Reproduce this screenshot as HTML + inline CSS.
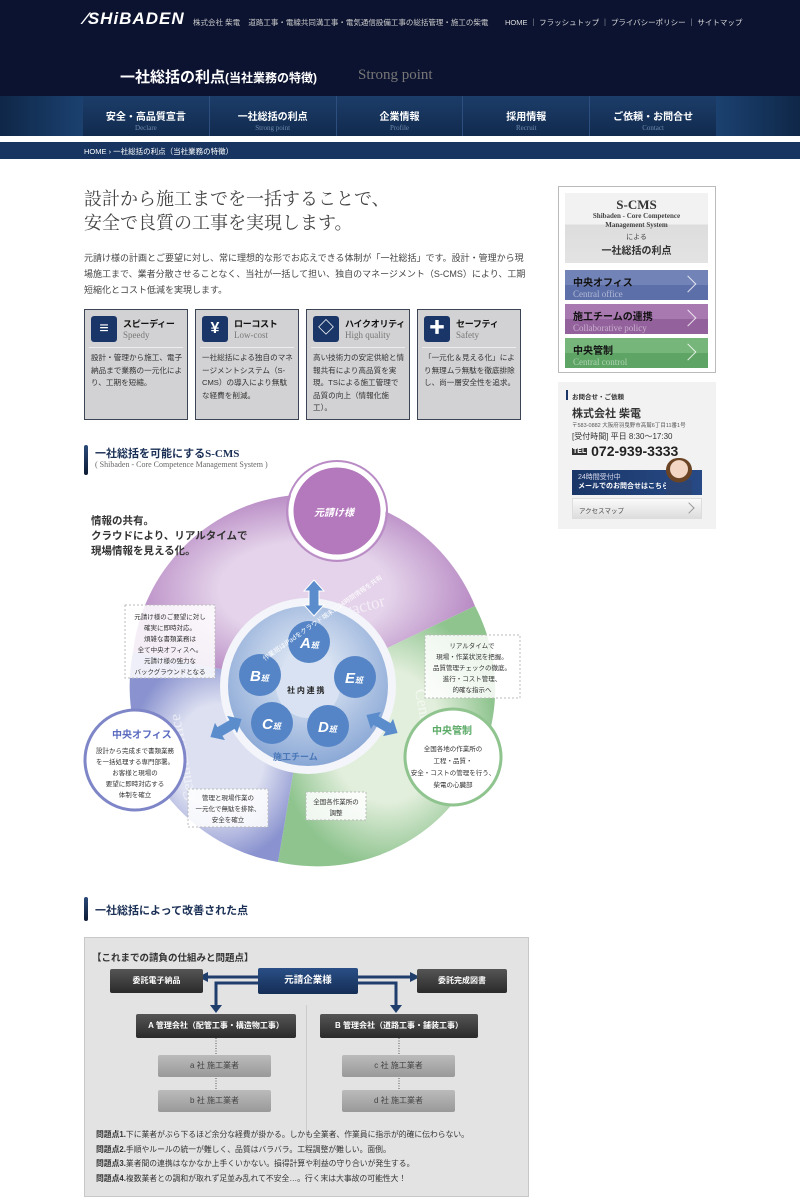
<!DOCTYPE html>
<html><head><meta charset="utf-8">
<style>
*{margin:0;padding:0;box-sizing:border-box}
body{width:800px;height:1202px;background:#fff;position:relative;overflow:hidden;font-family:"Liberation Sans","Noto Sans CJK JP",sans-serif;color:#333}
.a{position:absolute}
.serif{font-family:"Liberation Serif","Noto Serif CJK SC",serif}
.nav{display:flex;}
.nav div{flex:1;text-align:center;color:#fff;font-size:10px;font-weight:bold;padding-top:12px;border-right:1px solid #2c4f80}
.nav div span{display:block;font-family:"Liberation Serif",serif;font-weight:normal;font-size:7px;color:#6f89ad;margin-top:1px}
.feat{position:absolute;top:309px;width:104px;height:111px;background:#d2d2d4;border:1px solid #3b4556;}
.feat .ic{position:absolute;left:6px;top:6px;width:26px;height:26px;background:#1a3668;border-radius:3px;color:#fff;text-align:center;font-weight:bold;font-size:16px;line-height:26px}
.feat .t{position:absolute;left:38px;top:7px;font-size:9px;font-weight:bold;color:#111;white-space:nowrap;letter-spacing:-0.3px}
.feat .e{position:absolute;left:38px;top:20px;font-size:9px;color:#777;font-family:"Liberation Serif",serif}
.feat .ln{position:absolute;left:4px;right:4px;top:37px;border-top:1px solid #eee}
.feat .d{position:absolute;left:6px;top:42px;right:4px;font-size:7.6px;line-height:12.5px;color:#333}
.btn{position:absolute;left:565px;width:143px;height:30px;color:#111;font-size:10px;font-weight:bold;padding:4px 0 0 8px}
.btn span{display:block;font-family:"Liberation Serif",serif;font-weight:normal;font-size:9px;color:rgba(255,255,255,.5)}
.btn:after{content:"";position:absolute;right:14px;top:8px;width:11px;height:11px;border-top:1px solid rgba(255,255,255,.8);border-right:1px solid rgba(255,255,255,.8);transform:rotate(45deg)}
.hd{position:absolute;left:84px;width:4px;background:linear-gradient(#2a4a7a,#0d1a33);border-radius:2px}
.dk{position:absolute;height:22px;background:linear-gradient(#555,#2a2a2a);color:#fff;font-size:8px;font-weight:bold;text-align:center;line-height:22px;border-radius:2px}
.gy{position:absolute;height:22px;background:linear-gradient(#bbb,#999);color:#444;font-size:8px;text-align:center;line-height:22px;border-radius:2px}
</style></head><body>
<!-- header -->
<div class="a" style="left:0;top:0;width:800px;height:96px;background:#0c1330"></div>
<div class="a" style="left:84px;top:9px;color:#fff;font-size:17px;font-weight:bold;letter-spacing:1px;font-style:italic">⁄SHiBADEN</div>
<div class="a" style="left:193px;top:17px;color:#ccc;font-size:7.5px">株式会社 柴電 &nbsp;&nbsp; 道路工事・電線共同溝工事・電気通信設備工事の総括管理・施工の柴電</div>
<div class="a" style="left:505px;top:17px;color:#ddd;font-size:7.5px">HOME ｜ フラッシュトップ ｜ プライバシーポリシー ｜ サイトマップ</div>
<div class="a" style="left:120px;top:66px;color:#fff;font-size:15px;font-weight:bold">一社総括の利点<span style="font-size:12px">(当社業務の特徴)</span></div>
<div class="a serif" style="left:358px;top:67px;color:#777;font-size:15px">Strong point</div>
<div class="a" style="left:0;top:96px;width:800px;height:40px;background:linear-gradient(90deg,#0f2748,#1d4576 12%,#1d4576 88%,#0f2748)"></div>
<div class="a nav" style="left:83px;top:96px;width:633px;height:40px;background:linear-gradient(#1c3d69,#112a4e)">
<div>安全・高品質宣言<span>Declare</span></div><div>一社総括の利点<span>Strong point</span></div><div>企業情報<span>Profile</span></div><div>採用情報<span>Recruit</span></div><div style="border:none">ご依頼・お問合せ<span>Contact</span></div></div>
<div class="a" style="left:0;top:142px;width:800px;height:17px;background:#183561"></div>
<div class="a" style="left:84px;top:146px;color:#fff;font-size:7.5px">HOME › 一社総括の利点（当社業務の特徴）</div>

<!-- main intro -->
<div class="a serif" style="left:84px;top:187px;font-size:18px;line-height:24px;color:#444">設計から施工までを一括することで、<br>安全で良質の工事を実現します。</div>
<div class="a" style="left:84px;top:250px;width:445px;font-size:9px;line-height:16px;color:#444">元請け様の計画とご要望に対し、常に理想的な形でお応えできる体制が「一社総括」です。設計・管理から現場施工まで、業者分散させることなく、当社が一括して担い、独自のマネージメント（S-CMS）により、工期短縮化とコスト低減を実現します。</div>

<div class="feat" style="left:84px"><div class="ic">≡</div><div class="t">スピーディー</div><div class="e">Speedy</div><div class="ln"></div><div class="d">設計・管理から施工、電子納品まで業務の一元化により、工期を短縮。</div></div>
<div class="feat" style="left:195px"><div class="ic">¥</div><div class="t">ローコスト</div><div class="e">Low-cost</div><div class="ln"></div><div class="d">一社総括による独自のマネージメントシステム（S-CMS）の導入により無駄な経費を削減。</div></div>
<div class="feat" style="left:306px"><div class="ic">◇</div><div class="t">ハイクオリティ</div><div class="e">High quality</div><div class="ln"></div><div class="d">高い技術力の安定供給と情報共有により高品質を実現。TSによる施工管理で品質の向上（情報化施工）。</div></div>
<div class="feat" style="left:417px"><div class="ic">✚</div><div class="t">セーフティ</div><div class="e">Safety</div><div class="ln"></div><div class="d">「一元化＆見える化」により無理ムラ無駄を徹底排除し、尚一層安全性を追求。</div></div>

<!-- section heading 1 -->
<div class="hd" style="top:445px;height:30px"></div>
<div class="a" style="left:95px;top:445px;font-size:11px;font-weight:bold;color:#1a2f55">一社総括を可能にする<span class="serif">S-CMS</span></div>
<div class="a serif" style="left:95px;top:460px;font-size:8px;color:#666">( Shibaden - Core Competence Management System )</div>

<!-- diagram -->
<svg class="a" style="left:0;top:0" width="800" height="1202" viewBox="0 0 800 1202">
<defs>
<radialGradient id="gp" cx="0.5" cy="0.5" r="0.5"><stop offset="0.5" stop-color="#e4d3ea"/><stop offset="1" stop-color="#b98cc5"/></radialGradient>
<radialGradient id="gg" cx="0.5" cy="0.5" r="0.5"><stop offset="0.5" stop-color="#e3efdd"/><stop offset="1" stop-color="#8fc48f"/></radialGradient>
<radialGradient id="gb" cx="0.5" cy="0.5" r="0.5"><stop offset="0.5" stop-color="#dde0f1"/><stop offset="1" stop-color="#8a93cf"/></radialGradient>
<radialGradient id="gi" cx="0.5" cy="0.4" r="0.6"><stop offset="0" stop-color="#f0f4fa"/><stop offset="1" stop-color="#8aa8d6"/></radialGradient>
<path id="dar" d="M-18 0 L-7 -10 L-7 -5 L7 -5 L7 -10 L18 0 L7 10 L7 5 L-7 5 L-7 10 Z"/>
</defs>
<g>
<path d="M308 686 L133 652 A178 178 0 0 1 475 606 Z" fill="url(#gp)"/>
<path d="M308 686 L475 606 A178 178 0 0 1 278 862 Z" fill="url(#gg)"/>
<path d="M308 686 L278 862 A178 178 0 0 1 133 652 Z" fill="url(#gb)"/>
<text x="265" y="620" transform="rotate(-15 330 600)" font-family="Liberation Serif" font-size="17" fill="#fff" opacity=".6">Prime Contractor</text>
<text x="0" y="0" transform="translate(195 800) rotate(-100)" font-family="Liberation Serif" font-size="16" fill="#fff" opacity=".6">Central office</text>
<text x="0" y="0" transform="translate(415 690) rotate(80)" font-family="Liberation Serif" font-size="16" fill="#fff" opacity=".6">Central control</text>
<circle cx="308" cy="686" r="88" fill="#f3f5fa"/>
<circle cx="308" cy="686" r="80" fill="url(#gi)"/>
<circle cx="308" cy="686" r="32" fill="#d8e2f2"/>
<g fill="#5585c6">
<circle cx="309" cy="642" r="21"/><circle cx="260" cy="675" r="21"/><circle cx="355" cy="677" r="21"/><circle cx="272" cy="723" r="21"/><circle cx="328" cy="726" r="21"/>
</g>
<g font-family="Liberation Sans" font-weight="bold" font-style="italic" fill="#fff" font-size="15">
<text x="300" y="648">A<tspan font-size="8">班</tspan></text>
<text x="250" y="681">B<tspan font-size="8">班</tspan></text>
<text x="345" y="683">E<tspan font-size="8">班</tspan></text>
<text x="262" y="729">C<tspan font-size="8">班</tspan></text>
<text x="318" y="732">D<tspan font-size="8">班</tspan></text>
</g>
<text x="287" y="693" font-size="8" font-weight="bold" fill="#222" font-family="Noto Sans CJK JP">社 内 連 携</text>
<text x="273" y="760" font-size="9" font-weight="bold" fill="#4a78b8" font-family="Noto Sans CJK JP">施工チーム</text>
<text x="252" y="660" transform="rotate(-35 260 640)" font-size="6.5" fill="#fff" font-family="Noto Sans CJK JP">作業班はiPadをクラウド端末に24時間情報を共有</text>
<use href="#dar" transform="translate(314 598) rotate(90)" fill="#5b8dcc" stroke="#fff" stroke-width="1"/>
<use href="#dar" transform="translate(226 728) rotate(-30)" fill="#5b8dcc"/>
<use href="#dar" transform="translate(382 724) rotate(30)" fill="#5b8dcc"/>
<circle cx="337" cy="511" r="46" fill="#b478bd" stroke="#fff" stroke-width="5"/>
<circle cx="337" cy="511" r="50" fill="none" stroke="#b98cc5" stroke-width="2"/>
<text x="314" y="516" font-size="10" font-weight="bold" font-style="italic" fill="#fff" font-family="Noto Sans CJK JP">元請け様</text>
<circle cx="135" cy="760" r="50" fill="#fff" stroke="#7e86c8" stroke-width="3"/>
<text x="112" y="738" font-size="10" font-weight="bold" fill="#5a6bc0" font-family="Noto Sans CJK JP">中央オフィス</text>
<g font-size="6.5" fill="#333" font-family="Noto Sans CJK JP" text-anchor="middle">
<text x="135" y="753">設計から完成まで書類業務</text><text x="135" y="764">を一括処理する専門部署。</text><text x="135" y="775">お客様と現場の</text><text x="135" y="786">要望に即時対応する</text><text x="135" y="797">体制を確立</text></g>
<circle cx="453" cy="757" r="48" fill="#fff" stroke="#8fc48f" stroke-width="3"/>
<text x="432" y="734" font-size="10" font-weight="bold" fill="#5aaa66" font-family="Noto Sans CJK JP">中央管制</text>
<g font-size="6.5" fill="#333" font-family="Noto Sans CJK JP" text-anchor="middle">
<text x="453" y="751">全国各地の作業所の</text><text x="453" y="763">工程・品質・</text><text x="453" y="775">安全・コストの管理を行う、</text><text x="453" y="787">柴電の心臓部</text></g>
<g fill="#fff" fill-opacity=".85" stroke="#bbb" stroke-dasharray="2 2">
<rect x="125" y="605" width="90" height="73"/><rect x="425" y="635" width="95" height="63"/><rect x="188" y="789" width="80" height="38"/><rect x="306" y="792" width="60" height="28"/></g>
<g font-size="6.5" fill="#333" font-family="Noto Sans CJK JP" text-anchor="middle">
<text x="170" y="619">元請け様のご要望に対し</text><text x="170" y="630">確実に即時対応。</text><text x="170" y="641">煩雑な書類業務は</text><text x="170" y="652">全て中央オフィスへ。</text><text x="170" y="663">元請け様の強力な</text><text x="170" y="674">バックグラウンドとなる</text>
<text x="472" y="648">リアルタイムで</text><text x="472" y="659">現場・作業状況を把握。</text><text x="472" y="670">品質管理チェックの徹底。</text><text x="472" y="681">進行・コスト管理、</text><text x="472" y="692">的確な指示へ</text>
<text x="228" y="800">管理と現場作業の</text><text x="228" y="811">一元化で無駄を排除、</text><text x="228" y="822">安全を確立</text>
<text x="336" y="804">全国各作業所の</text><text x="336" y="815">調整</text>
</g>
<g font-size="10.5" font-weight="bold" fill="#333" font-family="Noto Sans CJK JP">
<text x="91" y="524">情報の共有。</text><text x="91" y="539">クラウドにより、リアルタイムで</text><text x="91" y="554">現場情報を見える化。</text></g>
</g>
</svg>

<!-- section heading 2 -->
<div class="hd" style="top:897px;height:24px"></div>
<div class="a" style="left:95px;top:902px;font-size:11px;font-weight:bold;color:#1a2f55">一社総括によって改善された点</div>

<div class="a" style="left:84px;top:937px;width:445px;height:260px;background:#e3e3e3;border:1px solid #c8c8c8"></div>
<div class="a" style="left:92px;top:950px;font-size:9.5px;font-weight:bold;color:#333">【これまでの請負の仕組みと問題点】</div>
<div class="a" style="left:306px;top:1005px;height:142px;border-left:1px solid #ccc"></div>
<svg class="a" style="left:0;top:0" width="800" height="1202"><g fill="none" stroke="#1f3e6c" stroke-width="3">
<path d="M200 977 H420"/><path d="M258 983 H216 V1007"/><path d="M356 983 H396 V1007"/></g>
<g fill="#1f3e6c"><path d="M198 977 L208 972 L208 982Z"/><path d="M420 977 L410 972 L410 982Z"/><path d="M210 1005 L222 1005 L216 1013Z"/><path d="M390 1005 L402 1005 L396 1013Z"/></g>
<g stroke="#555" stroke-dasharray="1 1.5"><path d="M216 1038 V1055"/><path d="M216 1078 V1090"/><path d="M399 1038 V1055"/><path d="M399 1078 V1090"/></g></svg>
<div class="dk" style="left:110px;top:969px;width:93px;height:24px;line-height:24px">委託電子納品</div>
<div class="a" style="left:258px;top:968px;width:100px;height:26px;background:linear-gradient(#2a4f86,#142d55);color:#fff;font-size:9.5px;font-weight:bold;text-align:center;line-height:26px;border-radius:2px">元請企業様</div>
<div class="dk" style="left:417px;top:969px;width:90px;height:24px;line-height:24px">委託完成図書</div>
<div class="dk" style="left:136px;top:1014px;width:160px;height:24px;line-height:24px">A 管理会社（配管工事・構造物工事）</div>
<div class="dk" style="left:320px;top:1014px;width:158px;height:24px;line-height:24px">B 管理会社（道路工事・舗装工事）</div>
<div class="gy" style="left:158px;top:1055px;width:113px">a 社 施工業者</div>
<div class="gy" style="left:158px;top:1090px;width:113px">b 社 施工業者</div>
<div class="gy" style="left:342px;top:1055px;width:113px">c 社 施工業者</div>
<div class="gy" style="left:342px;top:1090px;width:113px">d 社 施工業者</div>
<div class="a" style="left:96px;top:1128px;font-size:7.8px;line-height:14.5px;color:#333;white-space:nowrap">
<b>問題点1.</b>下に業者がぶら下るほど余分な経費が掛かる。しかも全業者、作業員に指示が的確に伝わらない。<br>
<b>問題点2.</b>手順やルールの統一が難しく、品質はバラバラ。工程調整が難しい。面倒。<br>
<b>問題点3.</b>業者間の連携はなかなか上手くいかない。損得計算や利益の守り合いが発生する。<br>
<b>問題点4.</b>複数業者との調和が取れず足並み乱れて不安全…。行く末は大事故の可能性大！</div>

<!-- sidebar -->
<div class="a" style="left:558px;top:186px;width:158px;height:187px;border:1px solid #bbb;background:#fff"></div>
<div class="a" style="left:565px;top:193px;width:143px;height:70px;background:linear-gradient(#f2f2f2 45%,#ddd 45%,#e3e3e3)"></div>
<div class="a serif" style="left:565px;top:197px;width:143px;text-align:center;font-size:13px;font-weight:bold;color:#333">S-CMS</div>
<div class="a serif" style="left:565px;top:212px;width:143px;text-align:center;font-size:7px;line-height:8.5px;font-weight:bold;color:#444">Shibaden - Core Competence<br>Management System</div>
<div class="a" style="left:565px;top:232px;width:143px;text-align:center;font-size:7px;color:#444">による</div>
<div class="a" style="left:565px;top:242px;width:143px;text-align:center;font-size:10px;font-weight:bold;color:#333">一社総括の利点</div>
<div class="btn" style="top:270px;background:linear-gradient(#7283b8 50%,#5d6fa8 50%)">中央オフィス<span>Central office</span></div>
<div class="btn" style="top:304px;background:linear-gradient(#a878b0 50%,#93619c 50%)">施工チームの連携<span>Collaborative policy</span></div>
<div class="btn" style="top:338px;background:linear-gradient(#76b67b 50%,#5ea565 50%)">中央管制<span>Central control</span></div>

<div class="a" style="left:558px;top:382px;width:158px;height:147px;background:#f2f2f2"></div>
<div class="a" style="left:566px;top:390px;width:2px;height:10px;background:#1a3668"></div>
<div class="a" style="left:572px;top:391px;font-size:6.5px;font-weight:bold;color:#333">お問合せ・ご依頼</div>
<div class="a" style="left:572px;top:405px;font-size:11px;font-weight:bold;color:#333">株式会社 柴電</div>
<div class="a" style="left:572px;top:421px;font-size:5.5px;color:#555">〒583-0882 大阪府羽曳野市高鷲6丁目11番1号</div>
<div class="a" style="left:572px;top:431px;font-size:8px;color:#333">[受付時間] 平日 8:30〜17:30</div>
<div class="a" style="left:572px;top:443px;font-size:14px;font-weight:bold;color:#222"><span style="font-size:7px;background:#333;color:#fff;padding:0 1px;vertical-align:3px">TEL</span> 072-939-3333</div>
<div class="a" style="left:572px;top:470px;width:130px;height:25px;background:linear-gradient(90deg,#1a3668,#274a86)"></div>
<div class="a" style="left:578px;top:473px;font-size:7px;line-height:9px;color:#dde"> 24時間受付中<br><b style="color:#fff">メールでのお問合せはこちら</b></div>
<div class="a" style="left:666px;top:458px;width:26px;height:37px;background:radial-gradient(circle at 50% 30%,#f3d7c4 30%,#6a4424 32%,#6a4424 45%,transparent 47%),linear-gradient(transparent 60%,#2b4476 60%);border-radius:12px 12px 0 0"></div>
<div class="a" style="left:572px;top:498px;width:130px;height:21px;background:linear-gradient(#fafafa,#ddd);border:1px solid #ddd;font-size:6.5px;color:#444;padding:6px 0 0 6px">アクセスマップ</div>
<div class="a" style="left:685px;top:504px;width:8px;height:8px;border-top:1px solid #999;border-right:1px solid #999;transform:rotate(45deg)"></div>
</body></html>
